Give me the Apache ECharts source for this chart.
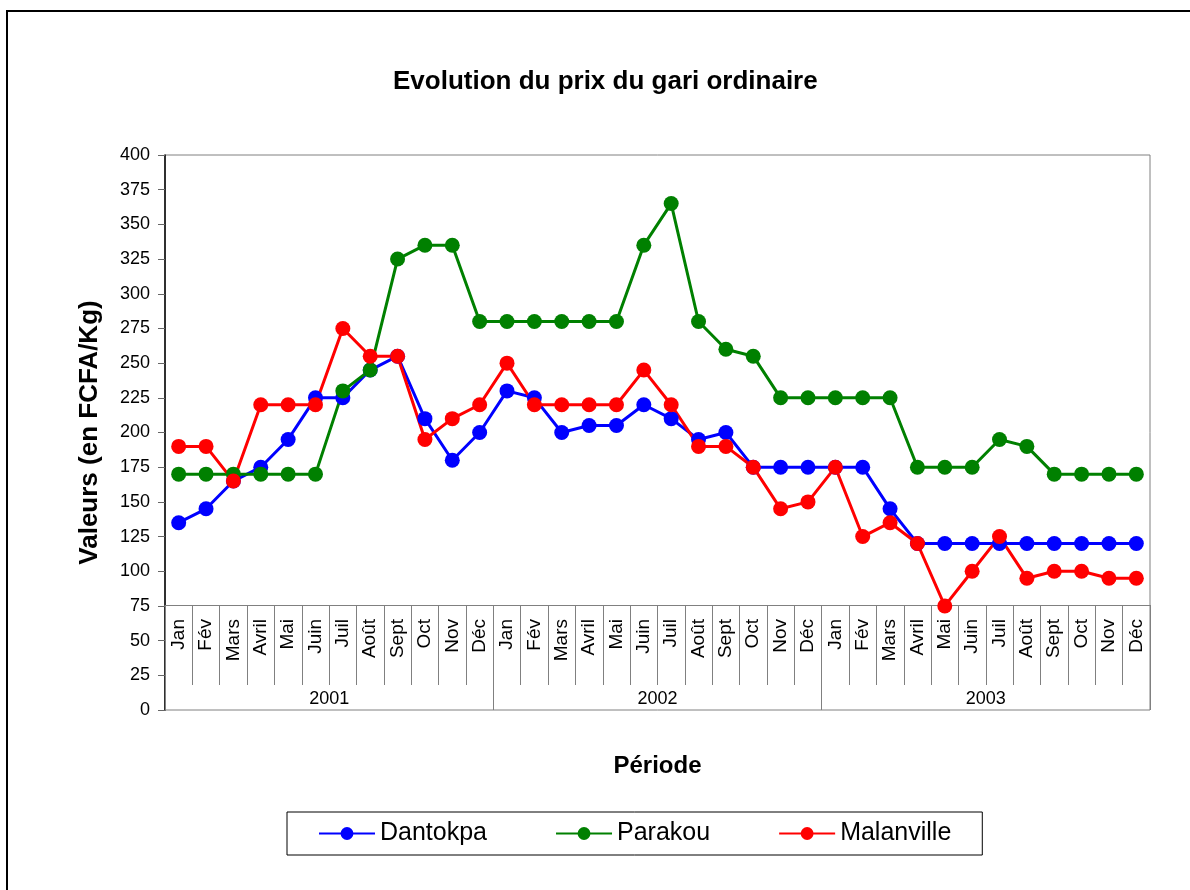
<!DOCTYPE html>
<html>
<head>
<meta charset="utf-8">
<script src="https://cdn.jsdelivr.net/npm/echarts@6/dist/echarts.min.js"></script>
<style>
  html, body { margin: 0; padding: 0; background: #fff; }
  #chart { width: 1190px; height: 890px; }
</style>
</head>
<body>
<div id="chart"></div>
<script>
// months of each year, 3 years
const months = ['Jan', 'Fév', 'Mars', 'Avril', 'Mai', 'Juin', 'Juil', 'Août', 'Sept', 'Oct', 'Nov', 'Déc']
const years = ['2001', '2002', '2003']
const categories = [].concat(months, months, months)

const dantokpa = [
  135, 145, 165, 175, 195, 225, 225, 245, 255, 210, 180, 200,
  230, 225, 200, 205, 205, 220, 210, 195, 200, 175, 175, 175,
  175, 175, 145, 120, 120, 120, 120, 120, 120, 120, 120, 120
]
const parakou = [
  170, 170, 170, 170, 170, 170, 230, 245, 325, 335, 335, 280,
  280, 280, 280, 280, 280, 335, 365, 280, 260, 255, 225, 225,
  225, 225, 225, 175, 175, 175, 195, 190, 170, 170, 170, 170
]
const malanville = [
  190, 190, 165, 220, 220, 220, 275, 255, 255, 195, 210, 220,
  250, 220, 220, 220, 220, 245, 220, 190, 190, 175, 145, 150,
  175, 125, 135, 120, 75, 100, 125, 95, 100, 100, 95, 95
]

const FONT = '"Liberation Sans", Arial, sans-serif'

function lineSerie(name, data, color) {
  return {
    name: name,
    type: 'line',
    data: data,
    xAxisIndex: 0,
    symbol: 'circle',
    symbolSize: 15,
    showAllSymbol: true,
    itemStyle: { color: color },
    lineStyle: { color: color, width: 3 }
  }
}

const chart = echarts.init(document.getElementById('chart'))
chart.setOption({
  animation: false,
  backgroundColor: '#fff',
  textStyle: { fontFamily: FONT, color: '#000' },
  title: {
    text: 'Evolution du prix du gari ordinaire',
    left: 388,
    top: 64,
    textStyle: { fontFamily: FONT, fontSize: 26, fontWeight: 'bold', color: '#000' }
  },
  graphic: [{
    type: 'rect',
    shape: { x: 7, y: 11, width: 1200, height: 900 },
    style: { fill: 'none', stroke: '#000', lineWidth: 2 },
    silent: true
  }],
  legend: {
    left: 287,
    top: 812,
    padding: [9, 31, 9, 31],
    itemGap: 68,
    itemWidth: 56,
    itemHeight: 16,
    borderColor: '#000',
    borderWidth: 1,
    textStyle: { fontFamily: FONT, fontSize: 25, color: '#000' },
    data: ['Dantokpa', 'Parakou', 'Malanville']
  },
  grid: {
    left: 165,
    right: 40,
    top: 155,
    bottom: 180,
    show: true,
    borderColor: '#808080',
    borderWidth: 1,
    backgroundColor: '#fff'
  },
  xAxis: [{
    type: 'category',
    data: categories,
    position: 'bottom',
    offset: -105,
    boundaryGap: true,
    name: 'Période',
    nameLocation: 'middle',
    nameGap: 149,
    nameTextStyle: { fontFamily: FONT, fontSize: 24, fontWeight: 'bold', color: '#000' },
    axisLine: { onZero: false, lineStyle: { color: '#808080', width: 1 } },
    axisTick: { show: true, interval: 0, length: 80, lineStyle: { color: '#808080' } },
    axisLabel: { interval: 0, rotate: 90, margin: 14, fontSize: 19, color: '#000', fontFamily: FONT },
    splitLine: { show: false }
  }, {
    type: 'category',
    data: years,
    position: 'bottom',
    offset: -105,
    boundaryGap: true,
    axisLine: { show: false, onZero: false },
    axisTick: { show: true, interval: 0, length: 105, lineStyle: { color: '#808080' } },
    axisLabel: { interval: 0, margin: 85, fontSize: 18, color: '#000', fontFamily: FONT },
    splitLine: { show: false }
  }],
  yAxis: {
    type: 'value',
    min: 0,
    max: 400,
    interval: 25,
    name: 'Valeurs (en FCFA/Kg)',
    nameLocation: 'middle',
    nameGap: 62,
    nameTextStyle: { fontFamily: FONT, fontSize: 26, fontWeight: 'bold', color: '#000' },
    axisLine: { show: true, lineStyle: { color: '#000', width: 1.5 } },
    axisTick: { show: true, length: 7, lineStyle: { color: '#666' } },
    axisLabel: { margin: 15, fontSize: 18, color: '#000', fontFamily: FONT },
    splitLine: { show: false }
  },
  series: [
    lineSerie('Dantokpa', dantokpa, '#0000FF'),
    lineSerie('Parakou', parakou, '#008000'),
    lineSerie('Malanville', malanville, '#FF0000')
  ]
})
</script>
</body>
</html>
